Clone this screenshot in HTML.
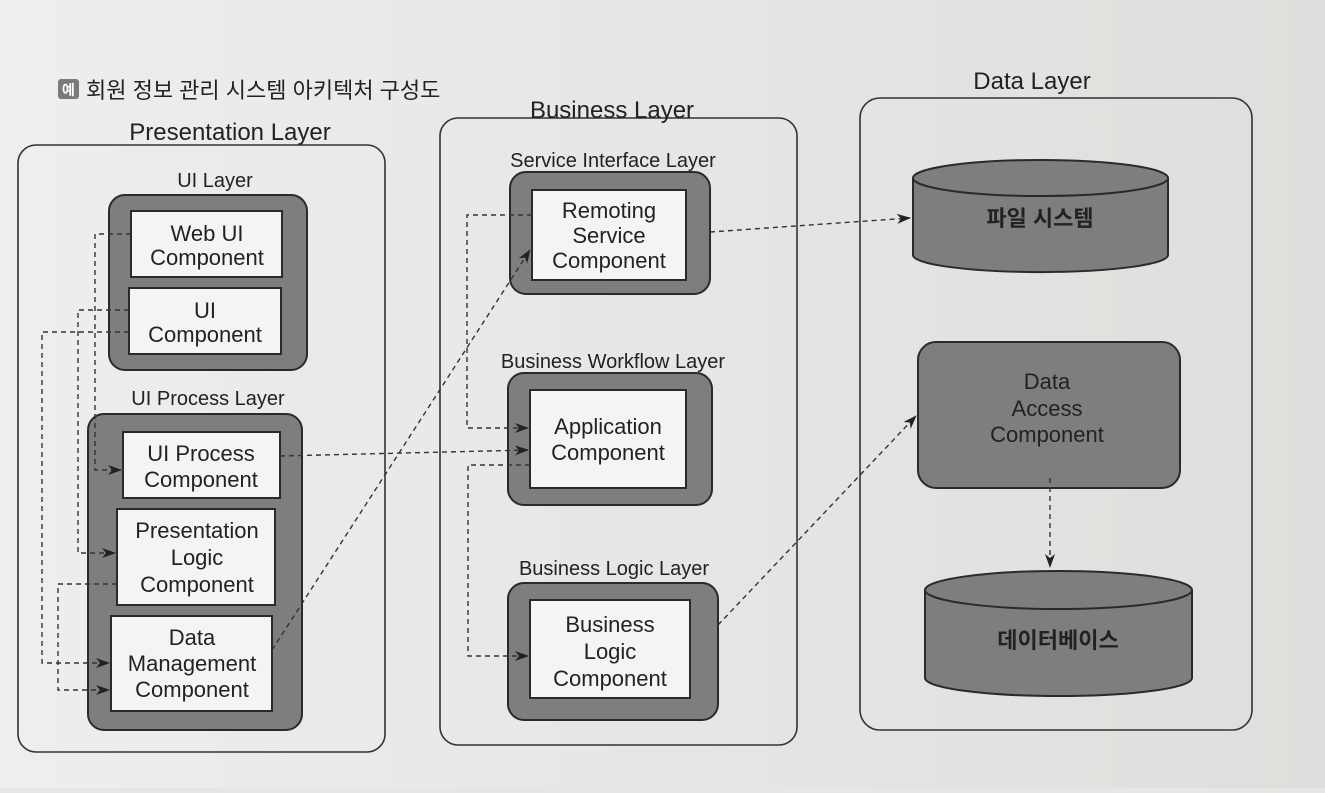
<!DOCTYPE html>
<html><head><meta charset="utf-8"><style>
body{margin:0;width:1325px;height:788px;background:#e6e6e4;overflow:hidden;font-family:"Liberation Sans","Noto Sans CJK KR",sans-serif;}
</style></head><body>
<svg width="1325" height="788" xmlns="http://www.w3.org/2000/svg" font-family="Liberation Sans, Noto Sans CJK KR, sans-serif">
<defs>
<marker id="a" markerWidth="14" markerHeight="10" refX="13" refY="5" orient="auto" markerUnits="userSpaceOnUse"><path d="M0,0 L14,5 L0,10 L4,5z" fill="#222"/></marker>
<linearGradient id="bg" x1="0" y1="0" x2="1" y2="0"><stop offset="0" stop-color="#eeeeec"/><stop offset="1" stop-color="#dedfdc"/></linearGradient>
</defs>
<rect width="1325" height="788" fill="url(#bg)"/>
<rect x="58" y="79" width="21" height="20" rx="3" fill="#7a7a7a"/>
<text x="68.5" y="95" font-size="14" fill="#fff" text-anchor="middle" font-weight="bold">예</text>
<text x="86" y="98" font-size="22" fill="#222">회원 정보 관리 시스템 아키텍처 구성도</text>

<g fill="none" stroke="#333" stroke-width="1.6">
<rect x="18" y="145" width="367" height="607" rx="18"/>
<rect x="440" y="118" width="357" height="627" rx="18"/>
<rect x="860" y="98" width="392" height="632" rx="20"/>
</g>
<g font-size="24" fill="#222" text-anchor="middle">
<text x="230" y="140">Presentation Layer</text>
<text x="612" y="118">Business Layer</text>
<text x="1032" y="89">Data Layer</text>
</g>
<g font-size="20" fill="#222" text-anchor="middle">
<text x="215" y="187">UI Layer</text>
<text x="208" y="405">UI Process Layer</text>
<text x="613" y="167">Service Interface Layer</text>
<text x="613" y="368">Business Workflow Layer</text>
<text x="614" y="575">Business Logic Layer</text>
</g>
<g fill="#7e7e7e" stroke="#2a2a2a" stroke-width="2">
<rect x="109" y="195" width="198" height="175" rx="16"/>
<rect x="88" y="414" width="214" height="316" rx="16"/>
<rect x="510" y="172" width="200" height="122" rx="16"/>
<rect x="508" y="373" width="204" height="132" rx="16"/>
<rect x="508" y="583" width="210" height="137" rx="16"/>
<rect x="918" y="342" width="262" height="146" rx="18"/>
</g>
<g fill="#f4f4f2" stroke="#2a2a2a" stroke-width="2">
<rect x="131" y="211" width="151" height="66"/>
<rect x="129" y="288" width="152" height="66"/>
<rect x="123" y="432" width="157" height="66"/>
<rect x="117" y="509" width="158" height="96"/>
<rect x="111" y="616" width="161" height="95"/>
<rect x="532" y="190" width="154" height="90"/>
<rect x="530" y="390" width="156" height="98"/>
<rect x="530" y="600" width="160" height="98"/>
</g>
<g font-size="22" fill="#222" text-anchor="middle">
<text x="207" y="241">Web UI</text><text x="207" y="265">Component</text>
<text x="205" y="318">UI</text><text x="205" y="342">Component</text>
<text x="201" y="461">UI Process</text><text x="201" y="487">Component</text>
<text x="197" y="538">Presentation</text><text x="197" y="565">Logic</text><text x="197" y="592">Component</text>
<text x="192" y="645">Data</text><text x="192" y="671">Management</text><text x="192" y="697">Component</text>
<text x="609" y="218">Remoting</text><text x="609" y="243">Service</text><text x="609" y="268">Component</text>
<text x="608" y="434">Application</text><text x="608" y="460">Component</text>
<text x="610" y="632">Business</text><text x="610" y="659">Logic</text><text x="610" y="686">Component</text>
<text x="1047" y="389">Data</text><text x="1047" y="416">Access</text><text x="1047" y="442">Component</text>
</g>
<g fill="#7e7e7e" stroke="#2a2a2a" stroke-width="2">
<path d="M913,178 L913,255 A127,17 0 0 0 1168,255 L1168,178"/>
<ellipse cx="1040.5" cy="178" rx="127.5" ry="18"/>
<path d="M925,590 L925,678 A133,18 0 0 0 1192,678 L1192,590"/>
<ellipse cx="1058.5" cy="590" rx="133.5" ry="19"/>
</g>
<g font-size="22" fill="#222" text-anchor="middle" font-weight="bold">
<text x="1040" y="226">파일 시스템</text>
<text x="1058" y="648">데이터베이스</text>
</g>
<g fill="none" stroke="#333" stroke-width="1.4" stroke-dasharray="5,4">
<path d="M131,234 H95 V470 H121" marker-end="url(#a)"/>
<path d="M129,310 H78 V553 H115" marker-end="url(#a)"/>
<path d="M129,332 H42 V663 H109" marker-end="url(#a)"/>
<path d="M117,584 H58 V690 H109" marker-end="url(#a)"/>
<path d="M280,456 L528,450" marker-end="url(#a)"/>
<path d="M272,650 L530,250" marker-end="url(#a)"/>
<path d="M532,215 H467 V428 H528" marker-end="url(#a)"/>
<path d="M530,465 H468 V656 H528" marker-end="url(#a)"/>
<path d="M710,232 L910,218" marker-end="url(#a)"/>
<path d="M718,625 L916,416" marker-end="url(#a)"/>
<path d="M1050,478 V567" marker-end="url(#a)"/>
</g>
</svg>
</body></html>
